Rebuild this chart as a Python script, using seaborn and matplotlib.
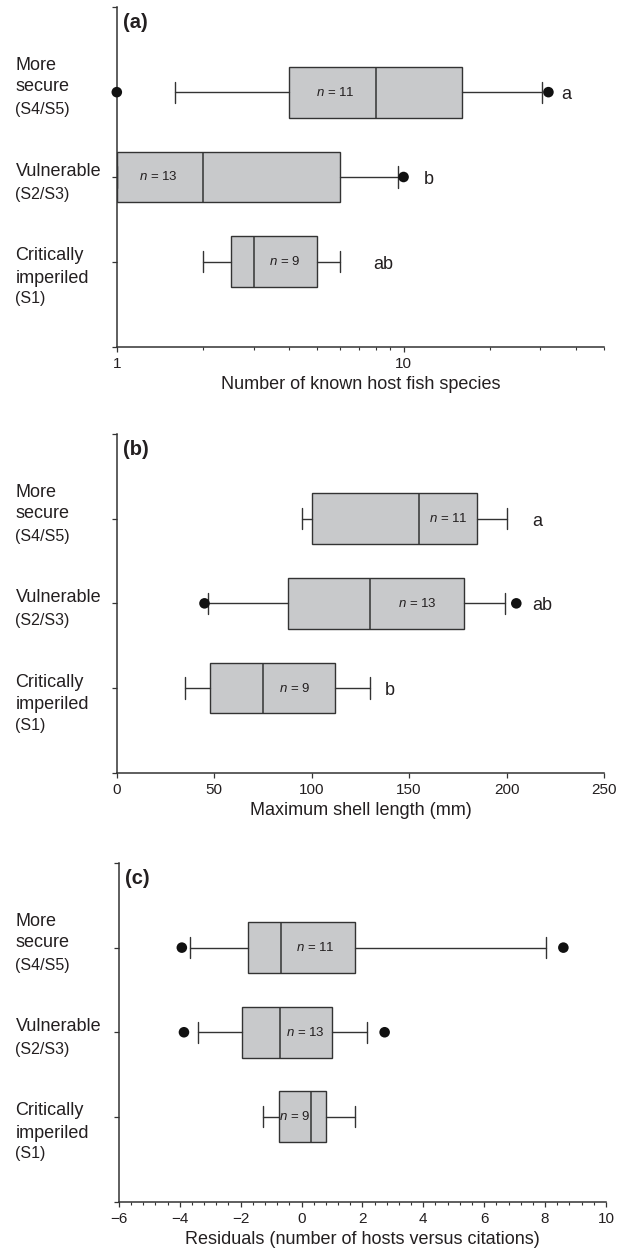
import numpy as np
import pandas as pd
import matplotlib
matplotlib.use("Agg")
import matplotlib.pyplot as plt
import seaborn as sns
from matplotlib import transforms
from matplotlib.ticker import FixedLocator, NullFormatter, FixedFormatter, MultipleLocator

# ---------------- data ----------------
categories = ["More secure", "Vulnerable", "Critically imperiled"]
label_lines = [["More", "secure", "(S4/S5)"], ["Vulnerable", "(S2/S3)"], ["Critically", "imperiled", "(S1)"]]
n_values = ["11", "13", "9"]

# (a) number of known host fish species (log scale)
hosts_q1 = [4.0, 1.0, 2.5]
hosts_med = [8.0, 2.0, 3.0]
hosts_q3 = [16.0, 6.0, 5.0]
hosts_whislo = [1.6, 1.0, 2.0]
hosts_whishi = [30.5, 9.6, 6.0]
hosts_fliers = [[1.0, 32.0], [10.0], []]
hosts_n_x = [5.8, 1.4, 3.85]
hosts_letters = ["a", "b", "ab"]
hosts_letter_x = [37.0, 12.2, 8.5]

# (b) maximum shell length (mm)
shell_q1 = [100, 88, 48]
shell_med = [155, 130, 75]
shell_q3 = [185, 178, 112]
shell_whislo = [95, 47, 35]
shell_whishi = [200, 199, 130]
shell_fliers = [[], [45, 205], []]
shell_n_x = [170, 154, 91]
shell_letters = ["a", "ab", "b"]
shell_letter_x = [216, 218.5, 140]

# (c) residuals (number of hosts versus citations)
resid_q1 = [-1.75, -1.97, -0.74]
resid_med = [-0.68, -0.71, 0.30]
resid_q3 = [1.75, 0.99, 0.79]
resid_whislo = [-3.67, -3.40, -1.25]
resid_whishi = [8.02, 2.14, 1.77]
resid_fliers = [[-3.93, 8.6], [-3.86, 2.73], []]
resid_n_x = [0.46, 0.14, -0.24]

# ---------------- style ----------------
sns.set_theme(style="ticks")
plt.rcParams["font.family"] = ["Liberation Sans", "DejaVu Sans"]
plt.rcParams["mathtext.fontset"] = "custom"
plt.rcParams["mathtext.rm"] = "Liberation Sans"
plt.rcParams["mathtext.it"] = "Liberation Sans:italic"
plt.rcParams["axes.unicode_minus"] = True

TEXT = "#231f20"
LINE = "#333333"
FILL = "#c8c9cb"

W, H = 622, 1254
fig = plt.figure(figsize=(W / 100, H / 100), dpi=100)


def make_ax(left, right, top, bottom):
    return fig.add_axes([left / W, 1 - bottom / H, (right - left) / W, (bottom - top) / H])


ax_a = make_ax(116.8, 604, 7.3, 346.7)
ax_b = make_ax(116.8, 604, 434, 772.7)
ax_c = make_ax(118.8, 606, 863, 1201.5)

line_offsets = [[-26.5, -5.5, 17.5], [-6, 17], [-6, 16.5, 37]]  # pixels relative to tick
line_sizes = [[13, 13, 11.5], [13, 11.5], [13, 13, 11.5]]


def draw_panel(ax, q1, med, q3, lo, hi, fliers, n_x, letters, letter_x, panel, xlabel):
    stats = [dict(med=m, q1=a, q3=b, whislo=l, whishi=h, fliers=[])
             for a, m, b, l, h in zip(q1, med, q3, lo, hi)]
    ax.bxp(stats, positions=[0, 1, 2], widths=0.6, capwidths=0.25,
           orientation="horizontal", patch_artist=True, showfliers=False, manage_ticks=False,
           boxprops=dict(facecolor=FILL, edgecolor=LINE, linewidth=1.0),
           medianprops=dict(color=LINE, linewidth=1.1),
           whiskerprops=dict(color=LINE, linewidth=1.0),
           capprops=dict(color=LINE, linewidth=1.0))
    fx, fy = [], []
    for i, fl in enumerate(fliers):
        for v in fl:
            fx.append(v)
            fy.append(i)
    df = pd.DataFrame({"value": fx, "pos": fy})
    if len(df):
        sns.scatterplot(data=df, x="value", y="pos", ax=ax, color="#111111", s=58,
                        edgecolor="none", linewidth=0, legend=False, zorder=6, clip_on=False)
    ax.set_ylim(3, -1)
    ax.set_yticks([-1, 0, 1, 2, 3])
    ax.set_yticklabels([])
    ax.set_ylabel("")
    sns.despine(ax=ax)
    for s in ["left", "bottom"]:
        ax.spines[s].set_color(LINE)
        ax.spines[s].set_linewidth(1.1)
    ax.tick_params(axis="both", which="major", direction="out", length=3.8, width=0.9,
                   color=LINE, labelcolor=TEXT, labelsize=11, pad=3.5)
    ax.tick_params(axis="x", which="minor", direction="out", length=2.4, width=0.8, color=LINE)
    ax.set_xlabel(xlabel, fontsize=13, color=TEXT, labelpad=4)
    # n labels
    for i, x in enumerate(n_x):
        ax.text(x, i, "$n$ = " + n_values[i], fontsize=9.5, color=TEXT, ha="center", va="center", zorder=7)
    # significance letters
    for i, (lt, x) in enumerate(zip(letters, letter_x)):
        ax.text(x, i + 0.03, lt, fontsize=13, color=TEXT, ha="center", va="center")
    # panel label
    ax.text(0.012, 0.982, panel, transform=ax.transAxes, fontsize=14.5, fontweight="bold",
            color=TEXT, ha="left", va="top")
    # category labels
    trans = transforms.blended_transform_factory(fig.transFigure, ax.transData)
    for i, lines in enumerate(label_lines):
        for j, txt in enumerate(lines):
            ax.annotate(txt, xy=(15.5 / W, i), xycoords=trans,
                        xytext=(0, -line_offsets[i][j] * 0.72), textcoords="offset points",
                        ha="left", va="center", fontsize=line_sizes[i][j], color=TEXT,
                        annotation_clip=False)


# (a)
ax_a.set_xscale("log")
draw_panel(ax_a, hosts_q1, hosts_med, hosts_q3, hosts_whislo, hosts_whishi, hosts_fliers,
           hosts_n_x, hosts_letters, hosts_letter_x, "(a)", "Number of known host fish species")
ax_a.set_xlim(1, 50)
ax_a.xaxis.set_major_locator(FixedLocator([1, 10]))
ax_a.xaxis.set_major_formatter(FixedFormatter(["1", "10"]))
ax_a.xaxis.set_minor_locator(FixedLocator([2, 3, 4, 5, 6, 7, 8, 9, 20, 30, 40, 50]))
ax_a.xaxis.set_minor_formatter(NullFormatter())

# (b)
draw_panel(ax_b, shell_q1, shell_med, shell_q3, shell_whislo, shell_whishi, shell_fliers,
           shell_n_x, shell_letters, shell_letter_x, "(b)", "Maximum shell length (mm)")
ax_b.set_xlim(0, 250)
ax_b.set_xticks([0, 50, 100, 150, 200, 250])

# (c)
draw_panel(ax_c, resid_q1, resid_med, resid_q3, resid_whislo, resid_whishi, resid_fliers,
           resid_n_x, [], [], "(c)", "Residuals (number of hosts versus citations)")
ax_c.set_xlim(-6, 10)
ax_c.set_xticks(np.arange(-6, 11, 2))
ax_c.xaxis.set_minor_locator(MultipleLocator(0.4))

fig.savefig("out.png", dpi=100)
